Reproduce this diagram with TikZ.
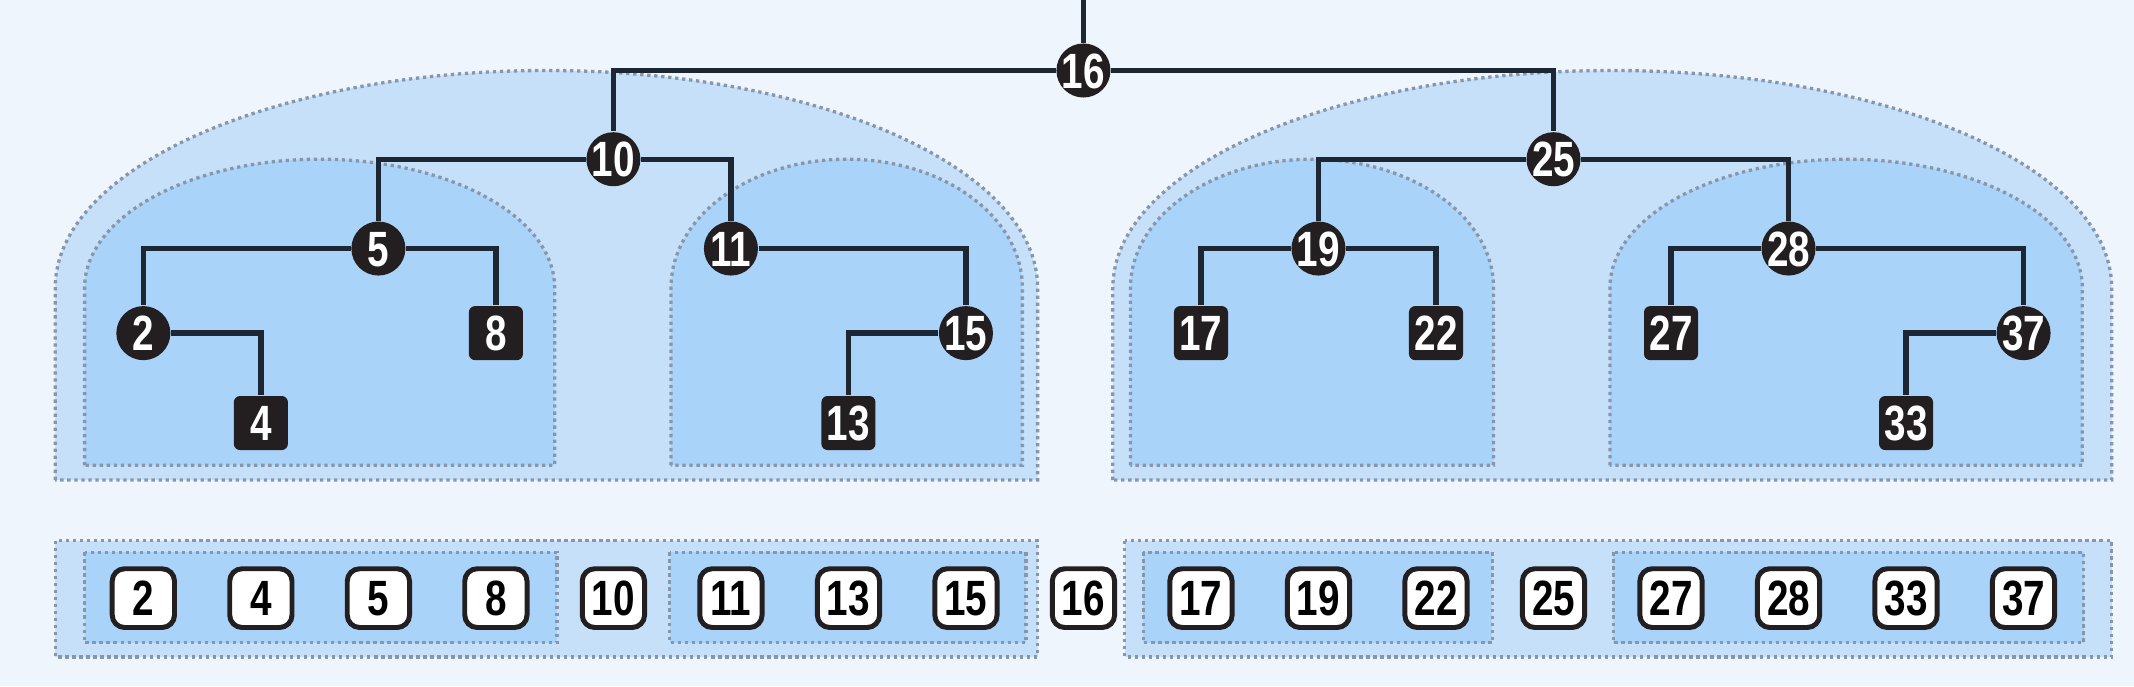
\documentclass[tikz,border=0pt]{standalone}
\usepackage{fontspec}
\newfontfamily\numfont[FakeStretch=0.78]{Liberation Sans}
\usetikzlibrary{positioning}
\definecolor{bgcol}{HTML}{EEF5FC}
\definecolor{outerblue}{HTML}{C6E0FA}
\definecolor{innerblue}{HTML}{AAD3FA}
\definecolor{dotline}{HTML}{8797AB}
\definecolor{nodeblack}{HTML}{231F20}
\definecolor{wire}{HTML}{1D2733}
% rectangle with an elliptic top, ellipse centre at y=-2.45
\newcommand{\domepanel}[5]{%
  \pgfmathsetmacro{\domerx}{(#3-#2)/2}%
  \pgfmathsetmacro{\domery}{#4+2.45}%
  \draw[#1] (#2,#5) -- (#2,-2.45)
    arc[start angle=180,end angle=0,x radius=\domerx,y radius=\domery]
    -- (#3,#5) -- cycle;}

\begin{document}
\begin{tikzpicture}[
    panelA/.style={fill=outerblue, draw=dotline, line width=0.8pt, dash pattern=on 0.8pt off 0.9pt},
    panelB/.style={fill=innerblue, draw=dotline, line width=0.8pt, dash pattern=on 0.8pt off 0.9pt},
    num/.style={font=\numfont\bfseries\fontsize{12pt}{12pt}\selectfont,
                inner sep=0pt, text height=8.6pt, text depth=0pt},
    knot/.style={num, circle, fill=nodeblack, text=white, minimum size=0.46cm},
    leaf/.style={num, rectangle, rounded corners=1.5pt, fill=nodeblack, text=white,
                 minimum width=0.46cm, minimum height=0.46cm},
    cell/.style={num, rectangle, rounded corners=3pt, fill=white, draw=nodeblack,
                 line width=1.2pt, text=black, minimum width=0.53cm, minimum height=0.50cm},
    edge/.style={wire, line width=1.3pt},
  ]
  \useasboundingbox (0,0) rectangle (18.16,-5.84);
  \fill[bgcol] (0,0) rectangle (18.16,-5.84);

  % panels of the tree
  \domepanel{panelA}{0.47}{8.83}{-0.60}{-4.085}
  \domepanel{panelA}{9.47}{17.97}{-0.60}{-4.085}
  \domepanel{panelB}{0.72}{4.72}{-1.355}{-3.96}
  \domepanel{panelB}{5.71}{8.70}{-1.355}{-3.96}
  \domepanel{panelB}{9.62}{12.71}{-1.355}{-3.96}
  \domepanel{panelB}{13.70}{17.72}{-1.355}{-3.96}

  % panels of the sorted row
  \draw[panelA] (0.47,-4.60) rectangle (8.83,-5.59);
  \draw[panelA] (9.57,-4.60) rectangle (17.97,-5.59);
  \draw[panelB] (0.72,-4.70) rectangle (4.74,-5.47);
  \draw[panelB] (5.70,-4.70) rectangle (8.73,-5.47);
  \draw[panelB] (9.73,-4.70) rectangle (12.70,-5.47);
  \draw[panelB] (13.73,-4.70) rectangle (17.73,-5.47);

  % tree
  \coordinate (top) at (9.22,0);
  \node[knot] (n16) at (9.22,-0.60)  {\makebox[0pt]{16}};
  \node[knot] (n10) at (5.22,-1.355) {\makebox[0pt]{10}};
  \node[knot] (n25) at (13.22,-1.355) {\makebox[0pt]{25}};
  \node[knot] (n5)  at (3.22,-2.115) {\makebox[0pt]{5}};
  \node[knot] (n11) at (6.22,-2.115) {\makebox[0pt]{11}};
  \node[knot] (n19) at (11.22,-2.115) {\makebox[0pt]{19}};
  \node[knot] (n28) at (15.22,-2.115) {\makebox[0pt]{28}};
  \node[knot] (n2)  at (1.22,-2.835) {\makebox[0pt]{2}};
  \node[leaf] (n8)  at (4.22,-2.835) {\makebox[0pt]{8}};
  \node[knot] (n15) at (8.22,-2.835) {\makebox[0pt]{15}};
  \node[leaf] (n17) at (10.22,-2.835) {\makebox[0pt]{17}};
  \node[leaf] (n22) at (12.22,-2.835) {\makebox[0pt]{22}};
  \node[leaf] (n27) at (14.22,-2.835) {\makebox[0pt]{27}};
  \node[knot] (n37) at (17.22,-2.835) {\makebox[0pt]{37}};
  \node[leaf] (n4)  at (2.22,-3.60) {\makebox[0pt]{4}};
  \node[leaf] (n13) at (7.22,-3.60) {\makebox[0pt]{13}};
  \node[leaf] (n33) at (16.22,-3.60) {\makebox[0pt]{33}};

  \draw[edge] (top) -- (n16);
  \draw[edge] (n16) -| (n10);
  \draw[edge] (n16) -| (n25);
  \draw[edge] (n10) -| (n5);
  \draw[edge] (n10) -| (n11);
  \draw[edge] (n5)  -| (n2);
  \draw[edge] (n5)  -| (n8);
  \draw[edge] (n2)  -| (n4);
  \draw[edge] (n11) -| (n15);
  \draw[edge] (n15) -| (n13);
  \draw[edge] (n25) -| (n19);
  \draw[edge] (n25) -| (n28);
  \draw[edge] (n19) -| (n17);
  \draw[edge] (n19) -| (n22);
  \draw[edge] (n28) -| (n27);
  \draw[edge] (n28) -| (n37);
  \draw[edge] (n37) -| (n33);

  % sorted row
  \foreach \v [count=\i from 0] in {2,4,5,8,10,11,13,15,16,17,19,22,25,27,28,33,37}
    \node[cell] (c\v) at (1.22+\i,-5.09) {\makebox[0pt]{\v}};
\end{tikzpicture}
\end{document}
